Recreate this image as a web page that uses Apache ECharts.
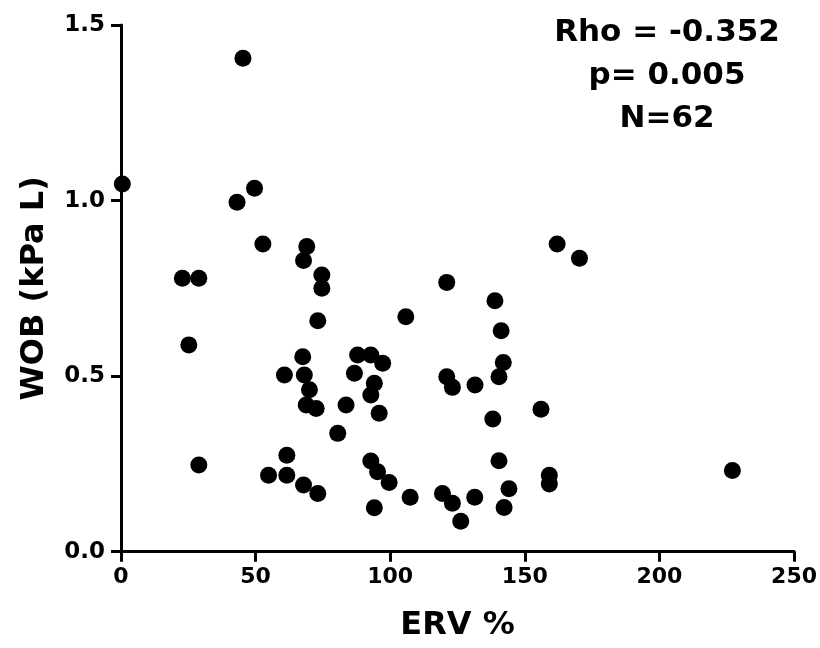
<!DOCTYPE html>
<html>
<head>
<meta charset="utf-8">
<style>
  html, body { margin: 0; padding: 0; background: #ffffff; }
  #chart { width: 820px; height: 648px; }
</style>
<script src="https://cdn.jsdelivr.net/npm/echarts@6/dist/echarts.min.js"></script>
</head>
<body>
<div id="chart"></div>
<script>
// ERV % (x) and WOB (kPa L) (y)
const erv = [0.5, 45.3, 49.6, 43.1, 52.7, 69.0, 67.8, 22.8, 28.9, 74.6,
             74.6, 73.1, 105.8, 25.2, 121.0, 67.5, 60.7, 68.1, 70.0, 68.8,
             72.5, 83.6, 80.5, 87.9, 92.8, 97.2, 86.7, 94.1, 92.8, 95.9,
             121.0, 123.1, 28.9, 61.6, 54.8, 61.6, 67.8, 73.1, 92.8, 95.3,
             99.6, 94.1, 107.4, 119.4, 162.0, 170.3, 138.9, 141.2, 142.0, 140.4,
             131.5, 156.0, 138.1, 140.4, 227.1, 159.1, 159.1, 144.1, 123.1, 131.4,
             142.3, 126.2];
const wob = [1.047, 1.405, 1.035, 0.995, 0.876, 0.869, 0.829, 0.779, 0.779, 0.788,
             0.750, 0.658, 0.669, 0.589, 0.767, 0.555, 0.503, 0.503, 0.461, 0.418,
             0.408, 0.418, 0.337, 0.560, 0.560, 0.537, 0.508, 0.480, 0.446, 0.394,
             0.498, 0.468, 0.247, 0.275, 0.218, 0.218, 0.190, 0.166, 0.258, 0.228,
             0.197, 0.125, 0.155, 0.166, 0.876, 0.836, 0.715, 0.629, 0.539, 0.498,
             0.475, 0.406, 0.378, 0.259, 0.231, 0.218, 0.193, 0.179, 0.138, 0.155,
             0.126, 0.087];
const xTicks = { min: 0, max: 250, interval: 50 };
const yTicks = { min: 0, max: 1.5, interval: 0.5 };
const statsLines = ['Rho = -0.352', 'p= 0.005', 'N=62'];
const xTitle = 'ERV %';
const yTitle = 'WOB (kPa L)';

const points = erv.map((v, i) => [v, wob[i]]);
const FONT = 'DejaVu Sans';

const chart = echarts.init(document.getElementById('chart'));
const axisCommon = {
  axisLine: { show: true, lineStyle: { color: '#000', width: 3 } },
  axisTick: { show: true, inside: false, length: 10, lineStyle: { color: '#000', width: 3 } },
  splitLine: { show: false },
  nameTextStyle: { fontFamily: FONT, fontWeight: 'bold', fontSize: 32, color: '#000' }
};
chart.setOption({
  animation: false,
  backgroundColor: '#ffffff',
  grid: { left: 121, right: 23.5, top: 25, bottom: 96.3, containLabel: false },
  xAxis: Object.assign({}, axisCommon, {
    type: 'value',
    min: xTicks.min, max: xTicks.max, interval: xTicks.interval,
    name: xTitle, nameLocation: 'middle', nameGap: 58,
    axisLabel: { fontFamily: FONT, fontWeight: 'bold', fontSize: 22, color: '#000', margin: 15 }
  }),
  yAxis: Object.assign({}, axisCommon, {
    type: 'value',
    min: yTicks.min, max: yTicks.max, interval: yTicks.interval,
    name: yTitle, nameLocation: 'middle', nameGap: 70,
    axisLabel: { fontFamily: FONT, fontWeight: 'bold', fontSize: 23, color: '#000', margin: 16,
                 formatter: v => v.toFixed(1) }
  }),
  series: [{
    type: 'scatter',
    data: points,
    symbol: 'circle',
    symbolSize: 17,
    itemStyle: { color: '#000', opacity: 1 }
  }],
  graphic: statsLines.map((t, i) => ({
    type: 'text',
    left: null,
    x: 667, y: 33 + i * 43,
    style: {
      text: t, fontFamily: FONT, fontWeight: 'bold', fontSize: 31, fill: '#000',
      textAlign: 'center', textVerticalAlign: 'middle'
    }
  }))
});
</script>
</body>
</html>
